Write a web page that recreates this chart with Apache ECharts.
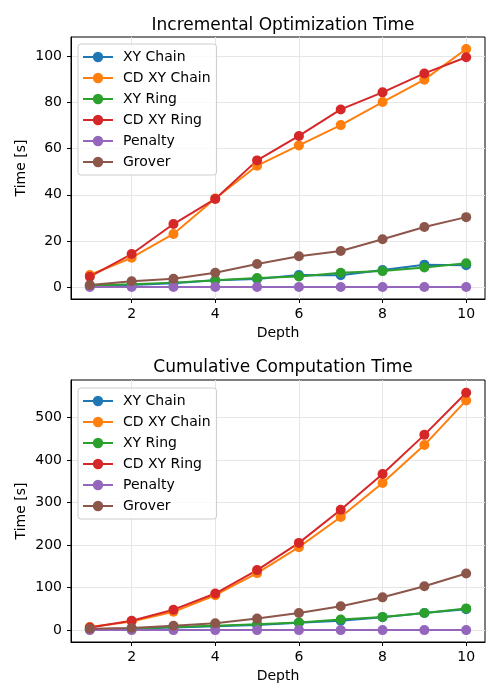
<!DOCTYPE html>
<html>
<head>
<meta charset="utf-8">
<script src="https://cdn.jsdelivr.net/npm/echarts@6/dist/echarts.min.js"></script>
<style>
html,body{margin:0;padding:0;background:#fff;}
#chart{width:500px;height:700px;}
</style>
</head>
<body>
<div id="chart"></div>
<script>
const depths = [1, 2, 3, 4, 5, 6, 7, 8, 9, 10];
const seriesNames = ['XY Chain', 'CD XY Chain', 'XY Ring', 'CD XY Ring', 'Penalty', 'Grover'];
const colors = ['#1f77b4', '#ff7f0e', '#2ca02c', '#d62728', '#9467bd', '#8c564b'];

// Incremental Optimization Time [s]
const incXYChain   = [0.4, 0.9, 1.6, 2.9, 3.5, 5.2, 5.1, 7.4, 9.7, 9.4];
const incCDXYChain = [5.2, 12.7, 23.0, 38.4, 52.6, 61.4, 70.2, 80.2, 89.9, 103.2];
const incXYRing    = [0.6, 1.2, 1.9, 2.9, 3.9, 4.6, 6.2, 6.9, 8.5, 10.3];
const incCDXYRing  = [4.5, 14.3, 27.3, 38.2, 54.9, 65.5, 77.0, 84.4, 92.6, 99.6];
const incPenalty   = [0, 0, 0, 0, 0, 0, 0, 0, 0, 0];
const incGrover    = [0.9, 2.5, 3.6, 6.2, 10.0, 13.3, 15.6, 20.7, 26.0, 30.3];

// Cumulative Computation Time [s]
const cumXYChain   = [2, 3, 6, 9, 12, 17, 22, 30, 40, 49];
const cumCDXYChain = [7, 20, 43, 82, 134, 195, 266, 346, 435, 540];
const cumXYRing    = [2, 4, 7, 10, 14, 18, 25, 31, 40, 51];
const cumCDXYRing  = [6, 22, 48, 86, 141, 205, 283, 367, 459, 558];
const cumPenalty   = [0, 0, 0, 0, 0, 0, 0, 0, 0, 0];
const cumGrover    = [3, 5, 10, 16, 27, 40, 56, 77, 103, 133];

const xTicks = [2, 4, 6, 8, 10];
const incYTicks = [0, 20, 40, 60, 80, 100];
const cumYTicks = [0, 100, 200, 300, 400, 500];

const incData = [incXYChain, incCDXYChain, incXYRing, incCDXYRing, incPenalty, incGrover];
const cumData = [cumXYChain, cumCDXYChain, cumXYRing, cumCDXYRing, cumPenalty, cumGrover];

const FONT = 'DejaVu Sans';

function xAxis(gridIndex) {
  return {
    type: 'value', gridIndex: gridIndex, min: 0.55, max: 10.45,
    name: 'Depth', nameLocation: 'middle', nameGap: 27, nameMoveOverlap: false,
    nameTextStyle: {fontFamily: FONT, fontSize: 14, color: '#000'},
    axisLine: {show: true, onZero: false, lineStyle: {color: '#000', width: 1}},
    axisTick: {show: true, length: 4, customValues: xTicks, lineStyle: {color: '#000'}},
    axisLabel: {customValues: xTicks, margin: 8, fontFamily: FONT, fontSize: 14, color: '#000'},
    splitLine: {show: true, lineStyle: {color: '#e6e6e6', width: 1}}
  };
}
function yAxis(gridIndex, min, max, ticks) {
  return {
    type: 'value', gridIndex: gridIndex, min: min, max: max,
    name: 'Time [s]', nameLocation: 'middle', nameGap: 43, nameMoveOverlap: false,
    nameTextStyle: {fontFamily: FONT, fontSize: 14, color: '#000'},
    axisLine: {show: true, onZero: false, lineStyle: {color: '#000', width: 1}},
    axisTick: {show: true, length: 4, customValues: ticks, lineStyle: {color: '#000'}},
    axisLabel: {customValues: ticks, margin: 9, fontFamily: FONT, fontSize: 14, color: '#000'},
    splitLine: {show: true, lineStyle: {color: '#e6e6e6', width: 1}}
  };
}
function legend(top) {
  return {
    orient: 'vertical', left: 78, top: top,
    data: seriesNames,
    itemWidth: 30, itemHeight: 13, itemGap: 7,
    padding: [6, 6, 6, 4],
    backgroundColor: 'rgba(255,255,255,0.8)',
    borderColor: '#cccccc', borderWidth: 1, borderRadius: 3,
    textStyle: {fontFamily: FONT, fontSize: 14, color: '#000', padding: [0, 0, 0, 5]}
  };
}

const series = [];
[incData, cumData].forEach(function (group, gi) {
  group.forEach(function (vals, i) {
    series.push({
      type: 'line', name: seriesNames[i], xAxisIndex: gi, yAxisIndex: gi,
      data: depths.map(function (d, k) { return [d, vals[k]]; }),
      symbol: 'circle', symbolSize: 10, showSymbol: true,
      color: colors[i],
      lineStyle: {width: 2, color: colors[i]},
      itemStyle: {color: colors[i]},
      emphasis: {disabled: true},
      animation: false
    });
  });
});

const chart = echarts.init(document.getElementById('chart'), null, {renderer: 'canvas'});
chart.setOption({
  backgroundColor: '#fff',
  animation: false,
  title: [
    {text: 'Incremental Optimization Time', left: 278, top: 12, textAlign: 'center',
     textStyle: {fontFamily: FONT, fontSize: 17, fontWeight: 'normal', color: '#000'}},
    {text: 'Cumulative Computation Time', left: 278, top: 354, textAlign: 'center',
     textStyle: {fontFamily: FONT, fontSize: 17, fontWeight: 'normal', color: '#000'}}
  ],
  legend: [legend(44), legend(388)],
  grid: [
    {left: 71, right: 15, top: 37, height: 262, show: true, borderColor: '#000', borderWidth: 1, backgroundColor: 'transparent'},
    {left: 71, right: 15, top: 380, height: 262, show: true, borderColor: '#000', borderWidth: 1, backgroundColor: 'transparent'}
  ],
  xAxis: [xAxis(0), xAxis(1)],
  yAxis: [yAxis(0, -5.2, 108.4, incYTicks), yAxis(1, -28, 588, cumYTicks)],
  series: series
});
</script>
</body>
</html>
